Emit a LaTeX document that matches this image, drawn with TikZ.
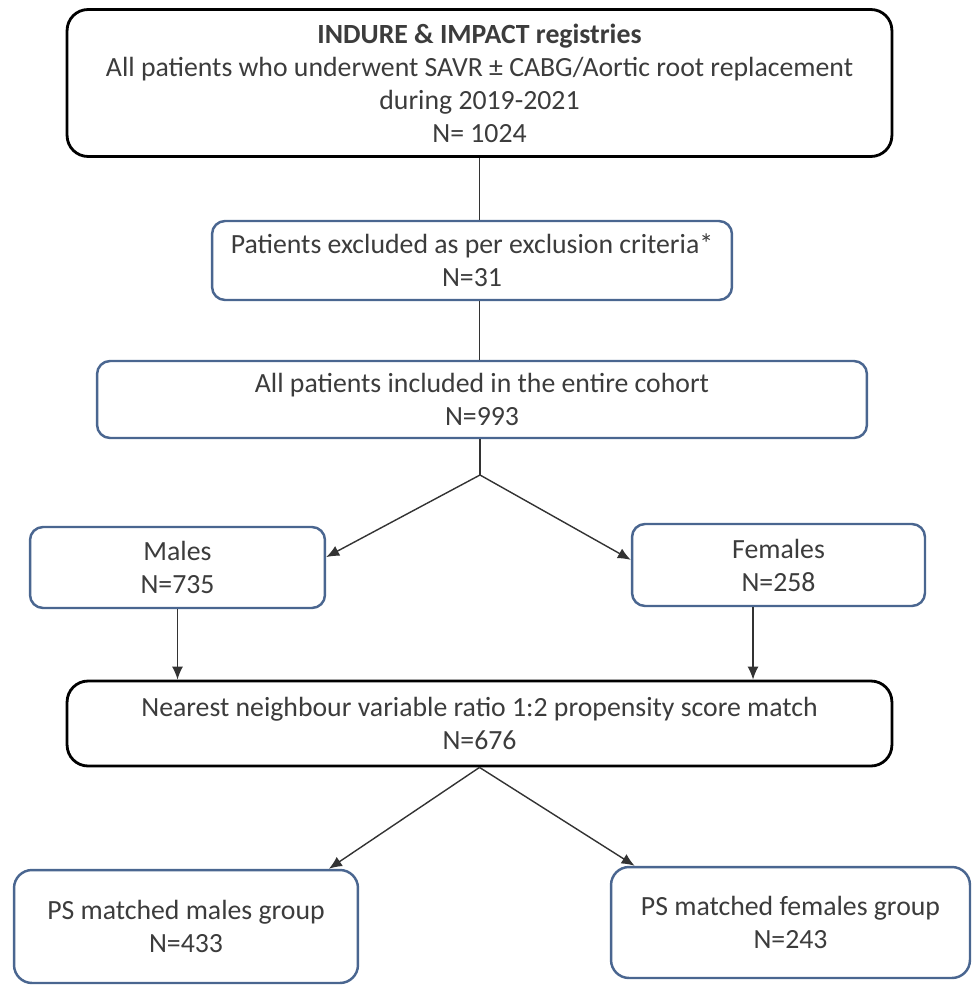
\documentclass[tikz,border=0pt]{standalone}
\usepackage{fontspec}
\setmainfont{Carlito}
\usepackage{tikz}
\usetikzlibrary{positioning,arrows.meta,calc}

\definecolor{boxblue}{HTML}{4A6690}
\definecolor{txtgrey}{HTML}{3C3C3C}

\begin{document}
\begin{tikzpicture}[
  x=0.02cm, y=-0.02cm,
  every node/.style={font=\fontsize{15.8pt}{18.8pt}\selectfont, text=txtgrey, align=center},
  blackbox/.style={draw=black, line width=1.6pt, rounded corners=0.42cm, fill=white},
  bluebox/.style={draw=boxblue, line width=1.4pt, rounded corners=0.26cm, fill=white},
  conn/.style={draw=black!80, line width=0.8pt},
  arr/.style={conn, -{Latex[length=2.6mm, width=2.2mm]}}
]
\useasboundingbox (0,0) rectangle (972,989);

% --- cohort boxes ---
\node[blackbox, minimum width=16.5cm, minimum height=2.94cm] (reg) at (479.5,83)
  {\textbf{INDURE \& IMPACT registries}\\All patients who underwent SAVR ± CABG/Aortic root replacement\\during 2019-2021\\N= 1024};
\node[bluebox, minimum width=10.4cm, minimum height=1.58cm] (excl) at (472,260.5)
  {Patients excluded as per exclusion criteria*\\N=31};
\node[bluebox, minimum width=15.4cm, minimum height=1.54cm] (cohort) at (482,399.5)
  {All patients included in the entire cohort\\N=993};
\coordinate (split) at (480,475);

% --- sex groups ---
\node[bluebox, minimum width=5.9cm, minimum height=1.62cm] (males) at (177.5,567.5)
  {Males\\N=735};
\node[bluebox, minimum width=5.86cm, minimum height=1.64cm] (females) at (778.5,565)
  {Females\\N=258};

% --- matching ---
\node[blackbox, minimum width=16.5cm, minimum height=1.7cm] (psm) at (479.5,723.5)
  {Nearest neighbour variable ratio 1:2 propensity score match\\N=676};
\node[bluebox, rounded corners=0.36cm, minimum width=6.88cm, minimum height=2.26cm] (psmale) at (186,926.5)
  {PS matched males group\\N=433};
\node[bluebox, rounded corners=0.36cm, minimum width=7.18cm, minimum height=2.22cm] (psfemale) at (790.5,922.5)
  {PS matched females group\\N=243};

% --- connectors ---
\draw[conn] (reg.south) -- (excl.north -| reg.south);
\draw[conn] (excl.south -| reg.south) -- (cohort.north -| reg.south);
\draw[conn] (cohort.south -| split) -- (split);
\draw[arr] (split) -- (males.4);
\draw[arr] (split) -- (females.178);
\draw[arr] (males.south) -- (males.south |- psm.north);
\draw[arr] ([xshift=-0.51cm]females.south) -- ([xshift=-0.51cm]females.south |- psm.north);
\draw[arr] (psm.south) -- (psmale.22);
\draw[arr] (psm.south) -- (psfemale.160);

\end{tikzpicture}
\end{document}
